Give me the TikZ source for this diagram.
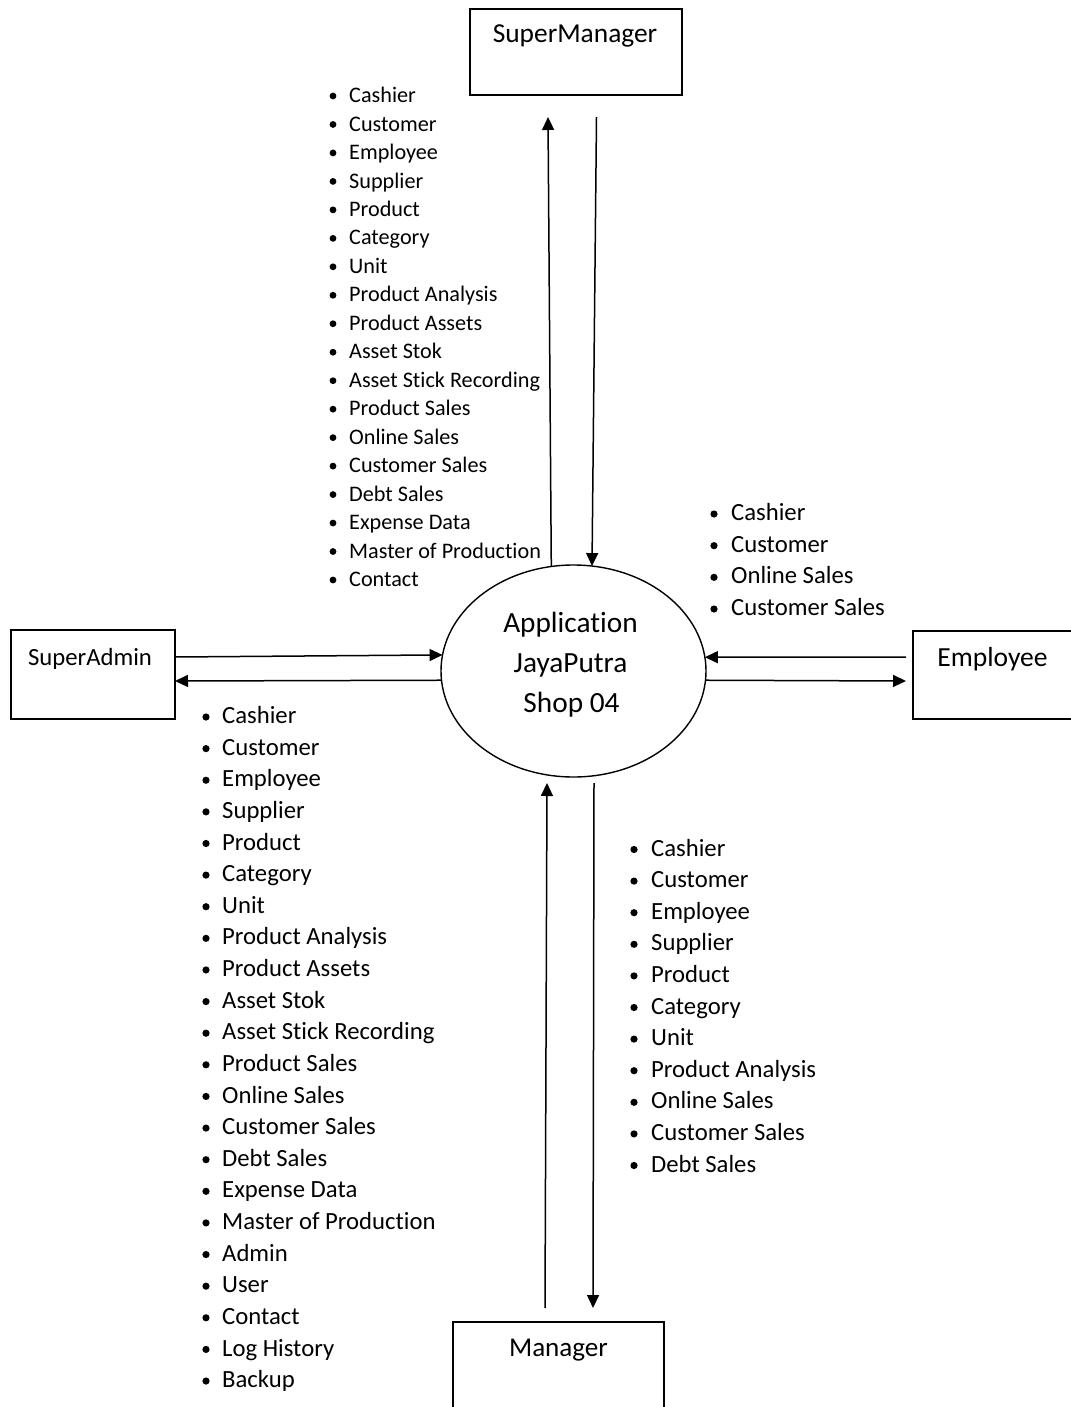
\documentclass[tikz,border=0pt]{standalone}
\usepackage{fontspec}
\setmainfont{Carlito}[Ligatures=NoCommon]
\usetikzlibrary{shapes.geometric,arrows.meta,calc}
\newcommand\fntTop{\fontsize{22.2}{26}\selectfont}
\newcommand\fntLow{\fontsize{24.7}{29}\selectfont}
\begin{document}
\begin{tikzpicture}[x=1pt,y=-1pt,
  entity/.style={draw, line width=1.4pt, inner sep=0pt, outer sep=0pt, rectangle},
  title/.style={inner sep=0pt, anchor=base},
  flow/.style={line width=1.5pt, -{Triangle[length=13pt,width=12pt]}},
  item/.style={inner sep=0pt, anchor=base west},
]
\useasboundingbox (0,0) rectangle (1070,1407);

% external entities
\node[entity, minimum width=212pt, minimum height=86pt] (sm) at (576,52) {};
\node[entity, minimum width=164pt, minimum height=89pt] (sa) at (93,674.5) {};
\node[entity, minimum width=172pt, minimum height=88pt] (emp) at (999,675) {};
\node[entity, minimum width=211pt, minimum height=93pt] (mgr) at (558.5,1368.5) {};

\node[title, font=\fontsize{27.4}{32}\selectfont] (smT) at (575,43) {SuperManager};
\node[title, font=\fontsize{24.7}{29}\selectfont] (saT) at (90,665) {SuperAdmin};
\node[title, font=\fontsize{27.6}{32}\selectfont] (empT) at (992.5,666.7) {Employee};
\node[title, font=\fontsize{27.1}{32}\selectfont] (mgrT) at (558.5,1356.7) {Manager};

% central process
\node[draw, ellipse, line width=1.4pt, inner sep=0pt, outer sep=0pt,
      minimum width=265pt, minimum height=212pt] (app) at (573.5,671) {};
\node[title, font=\fontsize{29.3}{40}\selectfont] (appA) at (570.5,632.7) {Application};
\node[title, font=\fontsize{29.3}{40}\selectfont] (appB) at (570.5,672.7) {JayaPutra};
\node[title, font=\fontsize{29.3}{40}\selectfont] (appC) at (571.5,712.7) {Shop 04};

% free ends of the flows
\coordinate (smUp) at ($(sm.south)+(-28,22)$);
\coordinate (smDn) at ($(sm.south)+(20.5,22)$);
\coordinate (mgrUp) at ($(mgr.north)+(-13.5,-14)$);
\coordinate (mgrDn) at ($(mgr.north)+(34.5,-14)$);
\coordinate (appBotUp) at ($(app.south)+(-26.5,6)$);
\coordinate (appBotDn) at ($(app.south)+(20.5,6)$);
\coordinate (empIn) at ($(emp.west)+(-7,-18)$);
\coordinate (empOut) at ($(emp.west)+(-7,6)$);

% flows
\draw[flow] (app.102.7) -- (smUp);
\draw[flow] (smDn) -- (app.80.5);
\draw[flow] ($(sa.east)+(0,-17.5)$) -- (app.173.9);
\draw[flow] (app.184.3) -- ($(sa.east)+(0,6.5)$);
\draw[flow] (empIn) -- (app.6.1);
\draw[flow] (app.-4.3) -- (empOut);
\draw[flow] (mgrUp) -- (appBotUp);
\draw[flow] (appBotDn) -- (mgrDn);

% data lists
\foreach \t [count=\i] in {Cashier, Customer, Employee, Supplier, Product, Category, Unit,
  Product Analysis, Product Assets, Asset Stok, Asset Stick Recording, Product Sales,
  Online Sales, Customer Sales, Debt Sales, Expense Data, Master of Production, Contact} {
  \pgfmathsetmacro\yb{102.6+(\i-1)*28.47}
  \node[item, font=\fntTop] (top\i) at (349,\yb) {\t};
  \fill (333,\yb-6.6) circle[radius=3.4pt];
}

\foreach \t [count=\i] in {Cashier, Customer, Online Sales, Customer Sales} {
  \pgfmathsetmacro\yb{520.6+(\i-1)*31.67}
  \node[item, font=\fntLow] (emp\i) at (731,\yb) {\t};
  \fill (714,\yb-6.6) circle[radius=3.6pt];
}

\foreach \t [count=\i] in {Cashier, Customer, Employee, Supplier, Product, Category, Unit,
  Product Analysis, Product Assets, Asset Stok, Asset Stick Recording, Product Sales,
  Online Sales, Customer Sales, Debt Sales, Expense Data, Master of Production, Admin,
  User, Contact, Log History, Backup} {
  \pgfmathsetmacro\yb{723.6+(\i-1)*31.62}
  \node[item, font=\fntLow] (sa\i) at (222,\yb) {\t};
  \fill (206,\yb-6.6) circle[radius=3.6pt];
}

\foreach \t [count=\i] in {Cashier, Customer, Employee, Supplier, Product, Category, Unit,
  Product Analysis, Online Sales, Customer Sales, Debt Sales} {
  \pgfmathsetmacro\yb{856.1+(\i-1)*31.6}
  \node[item, font=\fntLow] (mg\i) at (651,\yb) {\t};
  \fill (634,\yb-6.6) circle[radius=3.6pt];
}
\end{tikzpicture}
\end{document}
